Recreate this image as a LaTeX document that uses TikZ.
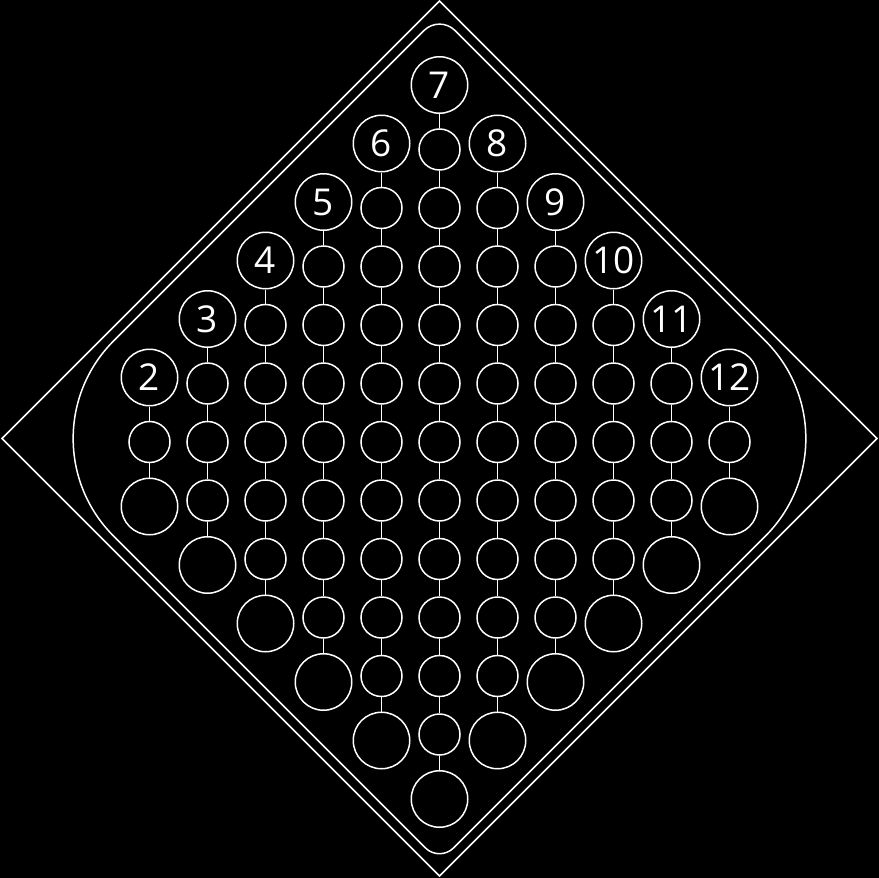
\documentclass[tikz,border=0pt]{standalone}
\usepackage{fontspec}
\setmainfont{Open Sans}
\usepackage{tikz}

\begin{document}
\begin{tikzpicture}[x=1pt,y=-1pt,line width=1.5pt,
  wire/.style={draw=white},
  ring/.style={draw=white,circle,inner sep=0pt},
  numbox/.style={ring,minimum size=56.5pt,text=white,font=\fontsize{37}{37}\selectfont},
  hole/.style={ring,minimum size=41pt},
  cup/.style={ring,minimum size=56.5pt}]
% background
\fill[black] (0,0) rectangle (879,878);
\useasboundingbox (0,0) rectangle (879,878);
% outer frame
\draw[wire] (439.5,1) -- (877,438.5) -- (439.5,876) -- (2,438.5) -- cycle;
% inner outline, one corner at a time
\draw[wire,rounded corners=22pt] (227.75,226.75) -- (439.5,15) -- (651.25,226.75);
\draw[wire,rounded corners=138pt] (651.25,226.75) -- (863,438.5) -- (651.25,650.25);
\draw[wire,rounded corners=20pt] (651.25,650.25) -- (439.5,862) -- (227.75,650.25);
\draw[wire,rounded corners=138pt] (227.75,650.25) -- (16,438.5) -- (227.75,226.75);
% columns 2..12
\foreach \c in {2,...,12}{
  \pgfmathtruncatemacro{\n}{6-abs(\c-7)}
  \pgfmathtruncatemacro{\m}{2*\n-1}
  \pgfmathsetmacro{\xc}{439.5+58*(\c-7)}
  \pgfmathsetmacro{\ytop}{442-58.5*(\n-1)}
  \node[numbox] (lbl\c) at (\xc,{\ytop-64.5}) {\c};
  \foreach \k [remember=\k as \prev (initially 0)] in {1,...,\m}{
    \node[hole] (s\c-\k) at (\xc,{\ytop+58.5*(\k-1)}) {};
    \ifnum\k>1 \draw[wire] (s\c-\prev) -- (s\c-\k); \fi
  }
  \node[cup] (big\c) at (\xc,{\ytop+58.5*(\m-1)+64.5}) {};
  \draw[wire] (lbl\c) -- (s\c-1);
  \draw[wire] (s\c-\m) -- (big\c);
}
\end{tikzpicture}
\end{document}
